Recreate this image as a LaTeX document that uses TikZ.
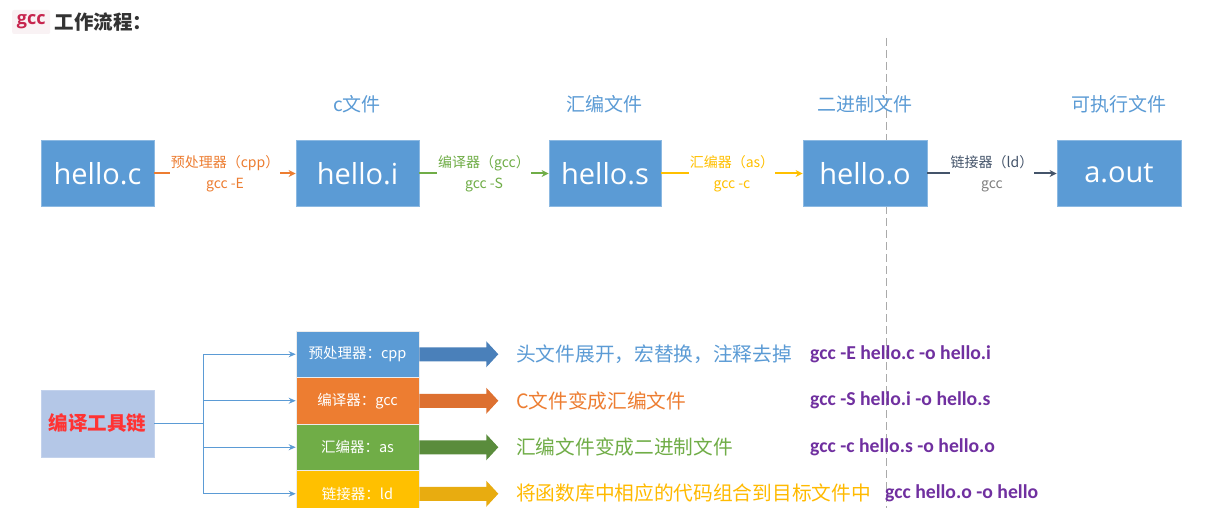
\documentclass[tikz,border=0pt]{standalone}
\usepackage{fontspec}
\setmainfont{Noto Sans CJK SC}
\newfontfamily\opensans{Open Sans}
\newfontfamily\carlito{Carlito}
\usetikzlibrary{arrows.meta,calc}
\definecolor{boxblue}{HTML}{5B9BD5}
\definecolor{corange}{HTML}{ED7D31}
\definecolor{cgreen}{HTML}{70AD47}
\definecolor{cyellow}{HTML}{FFC000}
\definecolor{cslate}{HTML}{44546A}
\definecolor{cpurple}{HTML}{7030A0}
\definecolor{tcfill}{HTML}{B4C7E7}
\definecolor{tcred}{HTML}{FF3333}
\definecolor{titlered}{HTML}{C7254E}
\definecolor{codebg}{HTML}{F9F2F4}
\definecolor{titlegray}{HTML}{333333}
\definecolor{dashgray}{HTML}{AAAAAA}
\definecolor{ablue}{HTML}{4A80BA}
\definecolor{aorange}{HTML}{DD7030}
\definecolor{agreen}{HTML}{5A8C3C}
\definecolor{ayellow}{HTML}{E8AC10}
\newcommand\setfs[1]{\fontsize{#1}{#1}\selectfont}
\begin{document}
\begin{tikzpicture}[x=1pt,y=-1pt,
  topbox/.style={fill=boxblue, draw=boxblue!70!white, line width=0.8, text=white,
     minimum height=66, inner sep=0, font=\opensans\setfs{29}},
  toplabel/.style={text=boxblue, font=\setfs{19}, inner sep=0},
  conn/.style={line width=2, -{Stealth[length=7,width=7]}},
  clabel/.style={fill=white, align=center, inner xsep=1, inner ysep=1, font=\fontsize{14}{21}\selectfont},
  tcbox/.style={fill=tcfill, draw=tcfill!80!white, minimum width=113, minimum height=67, inner sep=0,
     text=tcred, font=\bfseries\setfs{19.5}},
  toolbox/.style={draw=white!85!gray, line width=0.6, minimum width=123, minimum height=46.5, inner sep=0,
     text=white, font=\setfs{14.5}},
  bconn/.style={draw=boxblue, line width=1},
  btip/.style={bconn, -{Stealth[length=7,width=6]}},
  desc/.style={anchor=west, inner sep=0, font=\setfs{19.7}},
  cmd/.style={anchor=west, inner sep=0, text=cpurple, font=\carlito\bfseries\setfs{19.7}},
  dashline/.style={draw=dashgray, line width=1, dash pattern=on 8pt off 4pt}
]
\useasboundingbox (0,0) rectangle (1211,508);
\fill[white] (0,0) rectangle (1211,508);

% title
\node[fill=codebg, rounded corners=2, text=titlered, inner xsep=4, minimum width=38, minimum height=24, anchor=west,
  font=\opensans\bfseries\setfs{18}] (gcc) at (12,22) {gcc};
\node[anchor=west, inner xsep=4, inner ysep=0, text=titlegray, font=\bfseries\setfs{19.5}] (title) at (gcc.east) {工作流程：};

% dashed separator
\coordinate (dtop) at (886,38);
\coordinate (dbot) at (886,508);
\draw[dashline] (dtop) -- (dbot);

% top row
\node[topbox, minimum width=113] (hc) at (97.5,173.5) {hello.c};
\node[topbox, minimum width=123] (hi) at (357.5,173.5) {hello.i};
\node[topbox, minimum width=112] (hs) at (605,173.5) {hello.s};
\node[topbox, minimum width=124] (ho) at (865,173.5) {hello.o};
\node[topbox, minimum width=124] (ao) at (1119,173.5) {a.out};

\node[toplabel] (lhi) at (357,104) {c文件};
\node[toplabel] (lhs) at (604,104) {汇编文件};
\node[toplabel] (lho) at (865,104) {二进制文件};
\node[toplabel] (lao) at (1119,104) {可执行文件};

\draw[conn, corange] (hc) -- node[clabel, text=corange] {预处理器（cpp）\\gcc -E} (hi);
\draw[conn, cgreen] (hi) -- node[clabel, text=cgreen] {编译器（gcc）\\gcc -S} (hs);
\draw[conn, cyellow] (hs) -- node[clabel, text=cyellow] {汇编器（as）\\gcc -c} (ho);
\draw[conn, cslate] (ho) -- node[clabel, text=cslate] {链接器（ld）\\\textcolor{gray}{gcc}} (ao);

% bottom part
\node[tcbox] (tc) at (97.5,423.5) {编译工具链};
\node[toolbox, fill=boxblue] (t1) at (357.5,354.25) {预处理器：cpp};
\node[toolbox, fill=corange] (t2) at (357.5,400.75) {编译器：gcc};
\node[toolbox, fill=cgreen] (t3) at (357.5,447.25) {汇编器：as};
\node[toolbox, fill=cyellow] (t4) at (357.5,493.75) {链接器：ld};

\coordinate (j) at ($(tc.east)+(49,0)$);
\draw[bconn] (tc.east) -- (j);
\draw[btip] (j) |- (t1.west);
\draw[btip] (j) |- (t2.west);
\draw[btip] (j) |- (t3.west);
\draw[btip] (j) |- (t4.west);

\foreach \t/\c in {t1/ablue,t2/aorange,t3/agreen,t4/ayellow}{
  \fill[\c] (\t.east) ++(0,-7) -- ++(67,0) -- ++(0,-6) -- ++(12,13) -- ++(-12,13)
     -- ++(0,-6) -- ++(-67,0) -- cycle;
}

\node[desc, text=boxblue] (d1) at (516,354) {头文件展开，宏替换，注释去掉};
\node[desc, text=corange] (d2) at (516,400.5) {C文件变成汇编文件};
\node[desc, text=cgreen] (d3) at (516,447) {汇编文件变成二进制文件};
\node[desc, text=cyellow!90!orange] (d4) at (516,493.5) {将函数库中相应的代码组合到目标文件中};

\node[cmd] (c1) at (810,354) {gcc -E hello.c -o hello.i};
\node[cmd] (c2) at (810,400.5) {gcc -S hello.i -o hello.s};
\node[cmd] (c3) at (810,447) {gcc -c hello.s -o hello.o};
\node[cmd] (c4) at (885,493.5) {gcc hello.o -o hello};
\end{tikzpicture}
\end{document}
